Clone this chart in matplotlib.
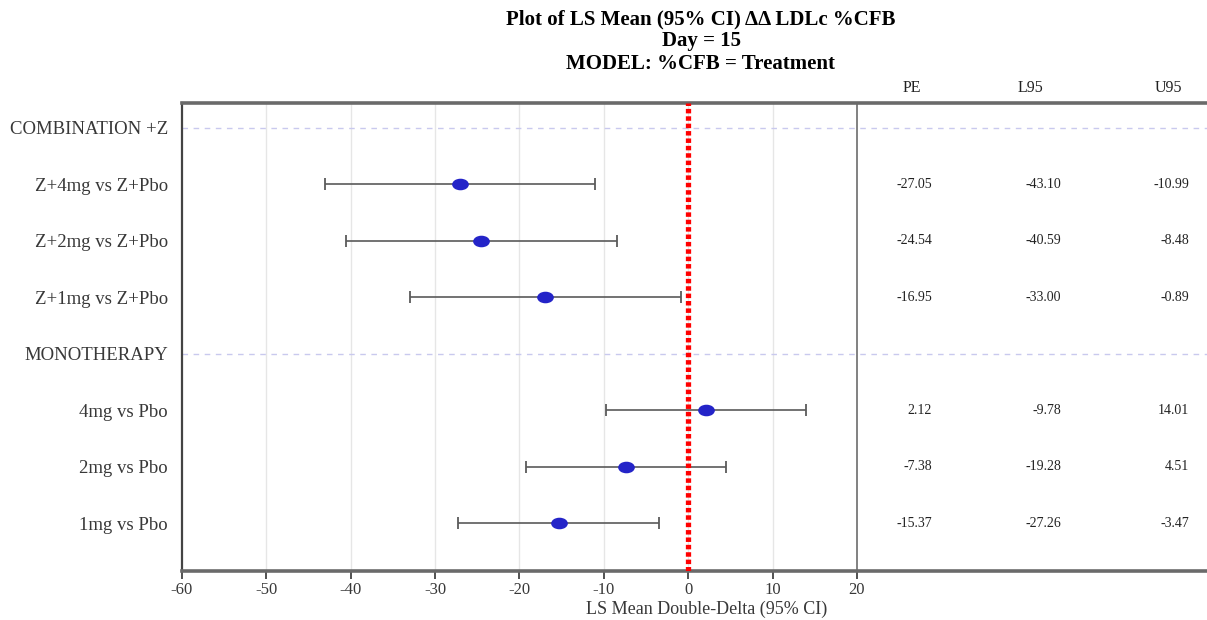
import numpy as np
import matplotlib
matplotlib.use("Agg")
import matplotlib.pyplot as plt
from matplotlib.path import Path
from matplotlib.transforms import Affine2D

# ---- data ----
labels = ["COMBINATION +Z", "Z+4mg vs Z+Pbo", "Z+2mg vs Z+Pbo", "Z+1mg vs Z+Pbo",
          "MONOTHERAPY", "4mg vs Pbo", "2mg vs Pbo", "1mg vs Pbo"]
is_header = [True, False, False, False, True, False, False, False]
pe = [np.nan, -27.05, -24.54, -16.95, np.nan, 2.12, -7.38, -15.37]
l95 = [np.nan, -43.10, -40.59, -33.00, np.nan, -9.78, -19.28, -27.26]
u95 = [np.nan, -10.99, -8.48, -0.89, np.nan, 14.01, 4.51, -3.47]
xticks = [-60, -50, -40, -30, -20, -10, 0, 10, 20]
col_headers = ["PE", "L95", "U95"]

plt.rcParams['font.family'] = ['Liberation Serif', 'DejaVu Serif']

W, H = 1207, 620
fig = plt.figure(figsize=(W / 100, H / 100), dpi=100)
ax = fig.add_axes([182 / W, 1 - 571 / H, (W - 182) / W, (571 - 103) / H])

n = len(labels)
ypos = np.arange(n, 0, -1)  # first label at top
pe_a, l_a, u_a = np.array(pe), np.array(l95), np.array(u95)

ax.set_xlim(-60, 61.5)
ax.set_ylim(0.15, n + 0.44)

# grid lines
for xt in xticks[1:-1]:
    ax.axvline(xt, color='#e6e6e6', lw=1.0, zorder=0)
ax.axvline(20, color='#777777', lw=1.3, zorder=1)

# header dashed lines
for y, h in zip(ypos, is_header):
    if h:
        ax.axhline(y, color='#c9c9ee', lw=1.0, ls=(0, (4, 4)), zorder=1)

# error bars
m = ~np.isnan(pe_a)
ax.errorbar(pe_a[m], ypos[m], xerr=[pe_a[m] - l_a[m], u_a[m] - pe_a[m]],
            fmt='none', ecolor='#5a5a5a', elinewidth=1.2, capsize=4.5,
            capthick=1.3, zorder=2)

# ellipse marker
ell = Path.unit_circle().transformed(Affine2D().scale(1.5, 1.0))
ax.plot(pe_a[m], ypos[m], ls='none', marker=ell, markersize=11,
        color='#2424c8', markeredgecolor='#2424c8', zorder=4)

# reference line at 0
ax.axvline(0, color='#ff0000', lw=3.8, ls=(0, (0.85, 0.55)), zorder=3)

# table
col_x = [28.9, 44.2, 59.4]
head_x = [26.5, 40.6, 56.9]
for hx, txt in zip(head_x, col_headers):
    ax.text(hx, n + 0.71, txt, ha='center', va='center', fontsize=11.5,
            color='#222222', clip_on=False)
for vals, cx in zip([pe_a, l_a, u_a], col_x):
    for y, v in zip(ypos, vals):
        if not np.isnan(v):
            ax.text(cx, y, f"{v:.2f}", ha='right', va='center',
                    fontsize=10, color='#222222')

# axes styling
ax.set_yticks(ypos)
ax.set_yticklabels(labels, fontsize=13.5, color='#383838')
ax.tick_params(axis='y', length=0, pad=10)
ax.set_xticks(xticks)
ax.set_xticklabels([str(t) for t in xticks], fontsize=12, color='#383838')
ax.tick_params(axis='x', length=6, width=1.2, color='#333333', pad=2)

ax.spines['right'].set_visible(False)
ax.spines['left'].set_color('#444444')
ax.spines['left'].set_linewidth(1.6)
for s in ['top', 'bottom']:
    ax.spines[s].set_color('#6a6a6a')
    ax.spines[s].set_linewidth(2.6)

fig.text(707 / W, 1 - 609 / H, "LS Mean Double-Delta (95% CI)", ha='center',
         va='center', fontsize=13, color='#383838')

# titles
tx = 701 / W
fig.text(tx, 1 - 19 / H, "Plot of LS Mean (95% CI) ΔΔ LDLc %CFB", ha='center',
         va='center', fontsize=15, fontweight='bold')
fig.text(tx, 1 - 41 / H, "Day = 15", ha='center', va='center', fontsize=15,
         fontweight='bold')
fig.text(tx, 1 - 64 / H, "MODEL: %CFB = Treatment", ha='center', va='center',
         fontsize=15, fontweight='bold')

fig.savefig("out.png", dpi=100)
